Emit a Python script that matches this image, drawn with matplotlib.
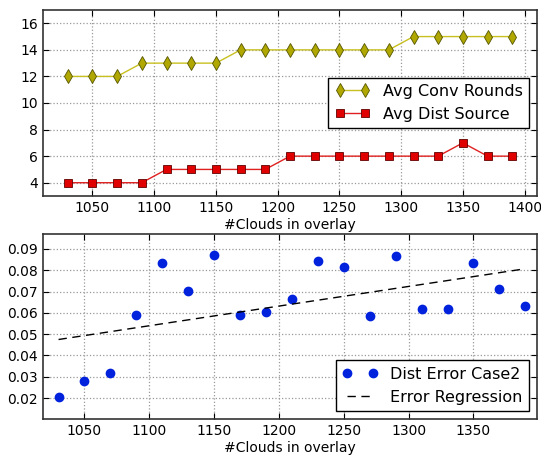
import matplotlib
matplotlib.use("Agg")
import matplotlib.pyplot as plt

# Data
clouds = [1030, 1050, 1070, 1090, 1110, 1130, 1150, 1170, 1190, 1210,
          1230, 1250, 1270, 1290, 1310, 1330, 1350, 1370, 1390]
conv_rounds = [12, 12, 12, 13, 13, 13, 13, 14, 14, 14,
               14, 14, 14, 14, 15, 15, 15, 15, 15]
dist_source = [4, 4, 4, 4, 5, 5, 5, 5, 5, 6,
               6, 6, 6, 6, 6, 6, 7, 6, 6]
dist_error = [0.0205, 0.0281, 0.0318, 0.0592, 0.0832, 0.0703, 0.0872, 0.0592,
              0.0605, 0.0665, 0.0843, 0.0817, 0.0583, 0.0868, 0.0617, 0.0617,
              0.0835, 0.0711, 0.0633]
regression_ends = [0.0475, 0.0807]
bottom_xticks = [1050, 1100, 1150, 1200, 1250, 1300, 1350]

fig = plt.figure(figsize=(5.41, 4.55), dpi=100)
ax1 = fig.add_axes([43 / 541, 1 - 196 / 455, 494 / 541, 186 / 455])
ax2 = fig.add_axes([43 / 541, 1 - 419 / 455, 494 / 541, 185 / 455])

# Top plot
ax1.plot(clouds, conv_rounds, color="#c8c020", marker="d", markersize=7,
         markerfacecolor="#b0a800", markeredgecolor="#555500", markeredgewidth=0.6,
         linewidth=1, label="Avg Conv Rounds")
ax1.plot(clouds, dist_source, color="#e02020", marker="s", markersize=6,
         markerfacecolor="#e00000", markeredgecolor="#600000", markeredgewidth=0.6,
         linewidth=1, label="Avg Dist Source")
ax1.set_xlim(1010, 1410)
ax1.set_ylim(3, 17)
ax1.set_yticks(range(4, 17, 2))
ax1.set_xlabel("#Clouds in overlay", fontsize=10, labelpad=2)
ax1.legend(loc="center right", bbox_to_anchor=(1.0, 0.5), fontsize=11.5,
           fancybox=False, framealpha=1, edgecolor="black", numpoints=2,
           handlelength=2.2, borderpad=0.4)

# Bottom plot
ax2.plot(clouds, dist_error, linestyle="none", marker="o", markersize=6,
         color="#0022dd", markeredgecolor="#0022dd", label="Dist Error Case2")
ax2.plot([clouds[0], clouds[-1]], regression_ends, color="black",
         linestyle=(0, (6, 4)), linewidth=1, label="Error Regression")
ax2.set_xlim(1018, 1399)
ax2.set_xticks(bottom_xticks)
ax2.set_ylim(0.0102, 0.097)
ax2.set_yticks([0.02, 0.03, 0.04, 0.05, 0.06, 0.07, 0.08, 0.09])
ax2.set_xlabel("#Clouds in overlay", fontsize=10, labelpad=2)
ax2.legend(loc="lower right", fontsize=11.5, fancybox=False, framealpha=1,
           edgecolor="black", numpoints=2, handlelength=2.2, borderpad=0.4)

for ax in (ax1, ax2):
    ax.grid(True, linestyle=":", color="#999999", linewidth=0.9)
    ax.tick_params(direction="in", top=True, right=True, labelsize=10, length=4)
    for s in ax.spines.values():
        s.set_linewidth(1.2)
        s.set_color("#333333")

fig.savefig("out.png", dpi=100)
